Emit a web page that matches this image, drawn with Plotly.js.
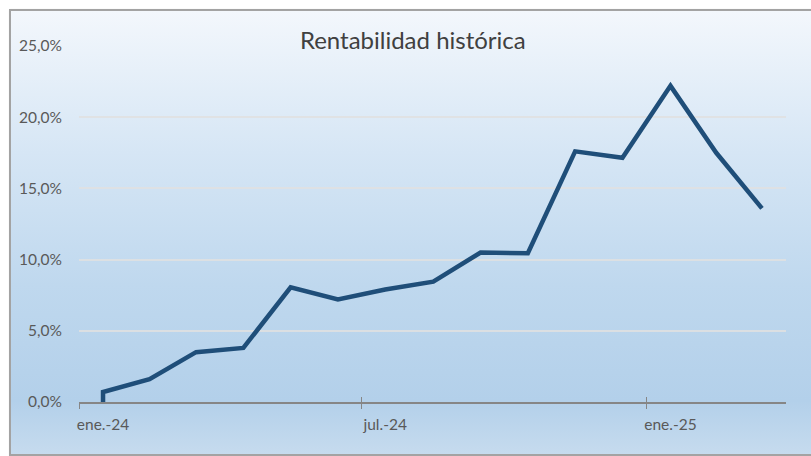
<!DOCTYPE html>
<html>
<head>
<meta charset="utf-8">
<script src="https://cdn.plot.ly/plotly-3.0.1.min.js"></script>
<style>
  html, body { margin: 0; padding: 0; background: #ffffff; }
  #wrap { position: relative; width: 811px; height: 456px; overflow: hidden; }
  #bg {
    position: absolute; left: 9px; top: 9px; width: 820px; height: 443px;
    border: 2px solid #a3a3a3;
    box-shadow: 1px 1px 2px rgba(0,0,0,0.25);
    background: linear-gradient(to bottom, #f3f7fc 0%, #d6e6f5 32%, #bfd8ee 62%, #b3d0ea 88%, #c6dbee 100%);
  }
  #chart { position: absolute; left: 0; top: 0; width: 811px; height: 456px; }
</style>
</head>
<body>
<div id="wrap">
  <div id="bg"></div>
  <div id="chart"></div>
</div>
<script>
// Monthly periods (two observations fall in ene.-24: start at 0 and month-end)
var months = ['2024-01','2024-01','2024-02','2024-03','2024-04','2024-05','2024-06','2024-07',
              '2024-08','2024-09','2024-10','2024-11','2024-12','2025-01','2025-02','2025-03'];
var rentabilidad = [0.0, 0.7, 1.6, 3.5, 3.8, 8.05, 7.2, 7.9, 8.45, 10.5, 10.45, 17.6, 17.15, 22.2, 17.5, 13.6];
var tickDates = ['2024-01-01','2024-07-01','2025-01-01'];
var tickLabels = ['ene.-24','jul.-24','ene.-25'];
var yTicks = [0, 5, 10, 15, 20, 25];
var yTickLabels = ['0,0%','5,0%','10,0%','15,0%','20,0%','25,0%'];

var font = 'Lato, Carlito, Calibri, "Open Sans", sans-serif';

var trace = {
  x: months,
  y: rentabilidad,
  xperiod: 'M1',
  xperiodalignment: 'middle',
  type: 'scatter',
  mode: 'lines',
  line: { color: '#1f4e79', width: 4.5, shape: 'linear' },
  hoverinfo: 'skip'
};

var dummy = { x: [tickDates[0]], y: [null], xaxis: 'x2', yaxis: 'y', type: 'scatter', mode: 'lines', showlegend: false, hoverinfo: 'skip' };

var xr = ['2024-01-01','2025-04-01'];

var layout = {
  width: 811, height: 456,
  margin: { l: 79, r: 25, t: 46, b: 54 },
  paper_bgcolor: 'rgba(0,0,0,0)',
  plot_bgcolor: 'rgba(0,0,0,0)',
  showlegend: false,
  separators: ',.',
  title: {
    text: 'Rentabilidad histórica',
    font: { family: font, size: 24, color: '#404040' },
    x: 0.509, xanchor: 'center',
    y: 0.91, yanchor: 'middle'
  },
  xaxis: {
    type: 'date',
    range: xr,
    tickmode: 'array',
    tickvals: tickDates,
    ticktext: tickLabels,
    ticks: 'outside', ticklen: 5, tickwidth: 1, tickcolor: '#868686',
    showline: true, linecolor: '#868686', linewidth: 2,
    showgrid: false, zeroline: false,
    ticklabelshift: 24,
    ticklabelstandoff: 2,
    tickfont: { family: font, size: 15.5, color: '#595959' },
    fixedrange: true
  },
  xaxis2: {
    type: 'date',
    range: xr,
    overlaying: 'x',
    anchor: 'y',
    side: 'bottom',
    tickmode: 'array',
    tickvals: tickDates,
    ticks: 'inside', ticklen: 5, tickwidth: 1, tickcolor: '#868686',
    showticklabels: false, showline: false, showgrid: false, zeroline: false,
    fixedrange: true
  },
  yaxis: {
    range: [0, 25],
    tickmode: 'array',
    tickvals: yTicks,
    ticktext: yTickLabels,
    showgrid: true, gridcolor: 'rgba(225,225,225,0.85)', gridwidth: 2,
    zeroline: false, showline: false,
    ticks: '',
    ticklabelstandoff: 16,
    tickfont: { family: font, size: 15.5, color: '#595959' },
    fixedrange: true
  }
};

Plotly.newPlot('chart', [trace, dummy], layout, { displayModeBar: false, staticPlot: true });
</script>
</body>
</html>
